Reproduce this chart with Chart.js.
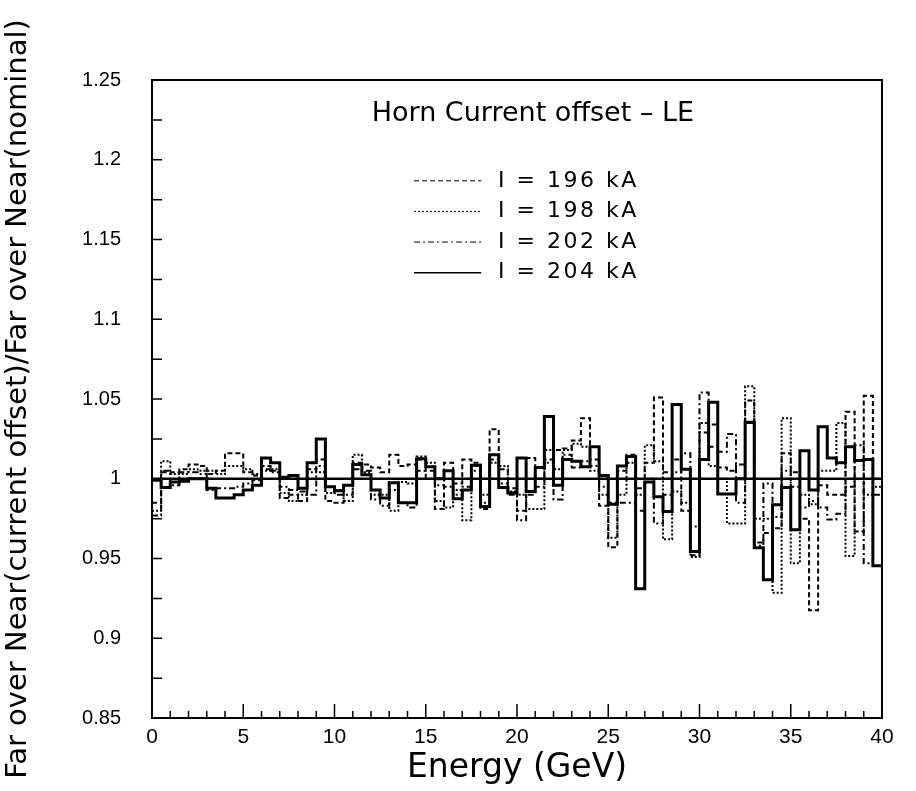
<!DOCTYPE html>
<html>
<head>
<meta charset="utf-8">
<script src="https://cdn.jsdelivr.net/npm/chart.js@4.4.1/dist/chart.umd.min.js"></script>
<style>
html, body { margin: 0; padding: 0; background: #fff; }
#wrap { width: 916px; height: 791px; }
</style>
</head>
<body>
<div id="wrap"><canvas id="chart" width="916" height="791"></canvas></div>
<script>
// energy binning: 80 bins of 0.5 GeV from 0 to 40
const BIN_WIDTH = 0.5;
const N_BINS = 80;

// ratio per bin
const ratio196 = [
	0.985, 1.004, 1.004, 1.006, 1.009, 1.008, 1.003, 1.005, 1.016, 1.016,
	1.004, 1.002, 1.008, 1.005, 0.988, 0.990, 0.986, 1.006, 1.012, 0.986,
	0.985, 0.996, 1.010, 1.009, 1.007, 1.004, 1.015, 1.008, 1.009, 1.012,
	1.005, 0.981, 1.010, 0.997, 1.012, 1.010, 0.981, 1.031, 1.006, 0.994,
	0.980, 1.013, 1.000, 1.012, 1.018, 1.019, 1.024, 1.038, 1.012, 0.983,
	0.957, 1.005, 1.015, 0.994, 1.010, 1.051, 1.004, 1.012, 0.980, 0.952,
	1.029, 1.034, 1.007, 1.005, 1.009, 1.049, 0.960, 0.966, 0.969, 1.016,
	1.004, 0.975, 0.9175, 0.996, 0.990, 0.990, 1.042, 0.967, 1.052, 1.000
];
const ratio198 = [
	0.980, 1.011, 1.003, 1.003, 1.006, 1.005, 1.005, 1.003, 1.008, 1.008,
	1.006, 1.003, 1.005, 1.006, 0.991, 0.986, 0.990, 1.004, 1.004, 0.991,
	0.993, 0.986, 1.015, 1.004, 0.990, 0.990, 0.980, 0.998, 0.997, 1.014,
	1.010, 0.986, 0.982, 0.993, 0.974, 1.008, 0.990, 1.010, 1.008, 0.992,
	0.990, 0.981, 0.981, 1.018, 1.006, 1.018, 1.022, 1.020, 1.005, 0.990,
	0.963, 0.990, 1.010, 0.990, 1.021, 1.011, 0.962, 0.992, 0.985, 0.951,
	1.035, 1.008, 1.000, 0.972, 0.972, 1.058, 0.975, 0.975, 0.9285, 1.038,
	0.947, 0.990, 0.984, 1.005, 1.005, 1.035, 0.9515, 1.000, 0.990, 0.995
];
const ratio202 = [
	0.977, 1.005, 0.996, 1.004, 1.004, 1.003, 0.993, 0.994, 0.994, 0.995,
	0.997, 0.999, 1.006, 1.004, 0.995, 0.993, 0.992, 0.990, 1.008, 0.995,
	0.990, 0.990, 1.006, 1.005, 0.987, 0.983, 0.993, 0.985, 0.982, 1.005,
	1.000, 0.996, 0.995, 0.990, 0.995, 1.005, 0.985, 1.012, 0.997, 0.990,
	0.974, 0.990, 0.995, 1.010, 0.987, 1.015, 1.007, 1.011, 1.008, 0.995,
	0.985, 0.985, 0.985, 0.980, 1.000, 0.972, 0.990, 1.004, 1.016, 0.970,
	1.054, 1.020, 1.017, 1.028, 0.985, 1.035, 0.958, 0.997, 0.976, 1.005,
	0.995, 0.982, 0.986, 0.982, 0.9745, 0.978, 0.995, 1.021, 0.947, 0.990
];
const ratio204 = [
	0.999, 0.9945, 0.998, 0.9985, 1.000, 1.000, 0.994, 0.988, 0.988, 0.990,
	0.993, 0.996, 1.013, 1.010, 1.001, 1.002, 0.994, 1.010, 1.025, 0.995,
	0.9925, 0.996, 1.009, 1.0025, 0.993, 0.988, 0.9975, 0.985, 0.985, 1.0125,
	1.0075, 1.000, 1.005, 0.9875, 0.993, 1.0085, 0.9826, 1.015, 0.9945, 0.991,
	1.013, 0.992, 1.007, 1.039, 0.996, 1.012, 1.011, 1.0075, 1.020, 1.002,
	0.984, 1.008, 1.014, 0.931, 0.998, 0.9887, 0.9795, 1.0465, 1.006, 0.9544,
	1.012, 1.048, 0.9905, 0.9905, 1.000, 1.0355, 0.9568, 0.9367, 0.9837, 0.9945,
	0.968, 1.0175, 0.993, 1.0326, 1.013, 1.010, 1.020, 1.0115, 1.012, 0.9455
];

const seriesLabels = ['I = 196 kA', 'I = 198 kA', 'I = 202 kA', 'I = 204 kA'];
const referenceLevel = 1;

const xTickValues = [0, 5, 10, 15, 20, 25, 30, 35, 40];
const xTickLabels = ['0', '5', '10', '15', '20', '25', '30', '35', '40'];
const yTickValues = [0.85, 0.9, 0.95, 1, 1.05, 1.1, 1.15, 1.2, 1.25];
const yTickLabels = ['0.85', '0.9', '0.95', '1', '1.05', '1.1', '1.15', '1.2', '1.25'];
const xMinorValues = [];
for (let e = 0; e <= 40; e += 1) xMinorValues.push(e);
const yMinorValues = [];
for (let k = 0; k <= 16; k++) yMinorValues.push(0.85 + k * 0.025);

const FONT = '"Liberation Sans", Arial, sans-serif';
const WIDE_FONT = '"DejaVu Sans", sans-serif';

// histogram as step line: one point per lower bin edge + closing point at 40
function toSteps(values){
	const pts = values.map((v, i) => ({ x: i * BIN_WIDTH, y: v }));
	pts.push({ x: N_BINS * BIN_WIDTH, y: values[values.length - 1] });
	return pts;
}

const styles = [
	{ dash: [5, 3], width: 2 },
	{ dash: [2, 2], width: 2 },
	{ dash: [6, 3, 2, 3], width: 2 },
	{ dash: [], width: 3 }
];
const seriesValues = [ratio196, ratio198, ratio202, ratio204];

const datasets = seriesValues.map((vals, i) => ({
	label: seriesLabels[i],
	data: toSteps(vals),
	stepped: true,
	borderColor: '#000',
	borderWidth: styles[i].width,
	borderDash: styles[i].dash,
	pointRadius: 0,
	fill: false
}));
datasets.push({
	label: 'reference',
	data: [{ x: 0, y: referenceLevel }, { x: 40, y: referenceLevel }],
	borderColor: '#000',
	borderWidth: 2.5,
	pointRadius: 0,
	fill: false
});

const framePlugin = {
	id: 'frame',
	afterDatasetsDraw(chart){
		const { ctx, chartArea: a, scales: { x, y } } = chart;
		ctx.save();
		ctx.strokeStyle = '#000';
		ctx.setLineDash([]);
		ctx.lineWidth = 2;
		ctx.strokeRect(a.left, a.top, a.right - a.left, a.bottom - a.top);
		// inward ticks
		ctx.lineWidth = 1.5;
		ctx.beginPath();
		xMinorValues.forEach(v => {
			const px = x.getPixelForValue(v);
			const len = v % 5 === 0 ? 14 : 7;
			ctx.moveTo(px, a.bottom);
			ctx.lineTo(px, a.bottom - len);
		});
		yMinorValues.forEach(v => {
			const py = y.getPixelForValue(v);
			ctx.moveTo(a.left, py);
			ctx.lineTo(a.left + 10, py);
		});
		ctx.stroke();

		// header and legend
		const w = a.right - a.left, h = a.bottom - a.top;
		ctx.fillStyle = '#000';
		ctx.textBaseline = 'middle';
		ctx.textAlign = 'left';
		ctx.font = '27px ' + WIDE_FONT;
		ctx.fillText('Horn Current offset \u2013 LE', a.left + w * 0.301, a.top + h * 0.053);
		ctx.font = '22px ' + WIDE_FONT;
		ctx.letterSpacing = '2.5px';
		seriesLabels.forEach((lab, i) => {
			const ly = a.top + h * (0.158 + i * 0.048);
			const x0 = a.left + w * 0.359, x1 = a.left + w * 0.451;
			ctx.lineWidth = i === 3 ? 1.5 : 1;
			ctx.setLineDash(styles[i].dash);
			ctx.beginPath();
			ctx.moveTo(x0, ly);
			ctx.lineTo(x1, ly);
			ctx.stroke();
			ctx.setLineDash([]);
			ctx.fillText(lab, a.left + w * 0.474, ly);
		});
		ctx.restore();
	}
};

new Chart(document.getElementById('chart'), {
	type: 'line',
	data: { datasets },
	options: {
		responsive: false,
		animation: false,
		layout: { padding: { left: 0, right: 34, top: 80, bottom: 0 } },
		plugins: { legend: { display: false }, tooltip: { enabled: false } },
		scales: {
			x: {
				type: 'linear',
				min: 0,
				max: 40,
				afterFit(s){ s.height = 73; },
				afterBuildTicks(s){ s.ticks = xTickValues.map(v => ({ value: v })); },
				grid: { display: false, drawTicks: false },
				border: { display: false },
				ticks: {
					color: '#000',
					font: { family: FONT, size: 21 },
					padding: 7,
					maxRotation: 0,
					autoSkip: false,
					callback: (v, i) => xTickLabels[i]
				},
				title: {
					display: true,
					text: 'Energy (GeV)',
					color: '#000',
					font: { family: WIDE_FONT, size: 33 },
					padding: { top: 0, bottom: 3 }
				}
			},
			y: {
				type: 'linear',
				min: 0.85,
				max: 1.25,
				afterFit(s){ s.width = 152; },
				afterBuildTicks(s){ s.ticks = yTickValues.map(v => ({ value: v })); },
				grid: { display: false, drawTicks: false },
				border: { display: false },
				ticks: {
					color: '#000',
					font: { family: FONT, size: 20 },
					padding: 31,
					autoSkip: false,
					callback: (v, i) => yTickLabels[i]
				},
				title: {
					display: true,
					text: 'Far over Near(current offset)/Far over Near(nominal)',
					color: '#000',
					font: { family: WIDE_FONT, size: 29 },
					padding: { top: 1, bottom: 0 }
				}
			}
		}
	},
	plugins: [framePlugin]
});
</script>
</body>
</html>
